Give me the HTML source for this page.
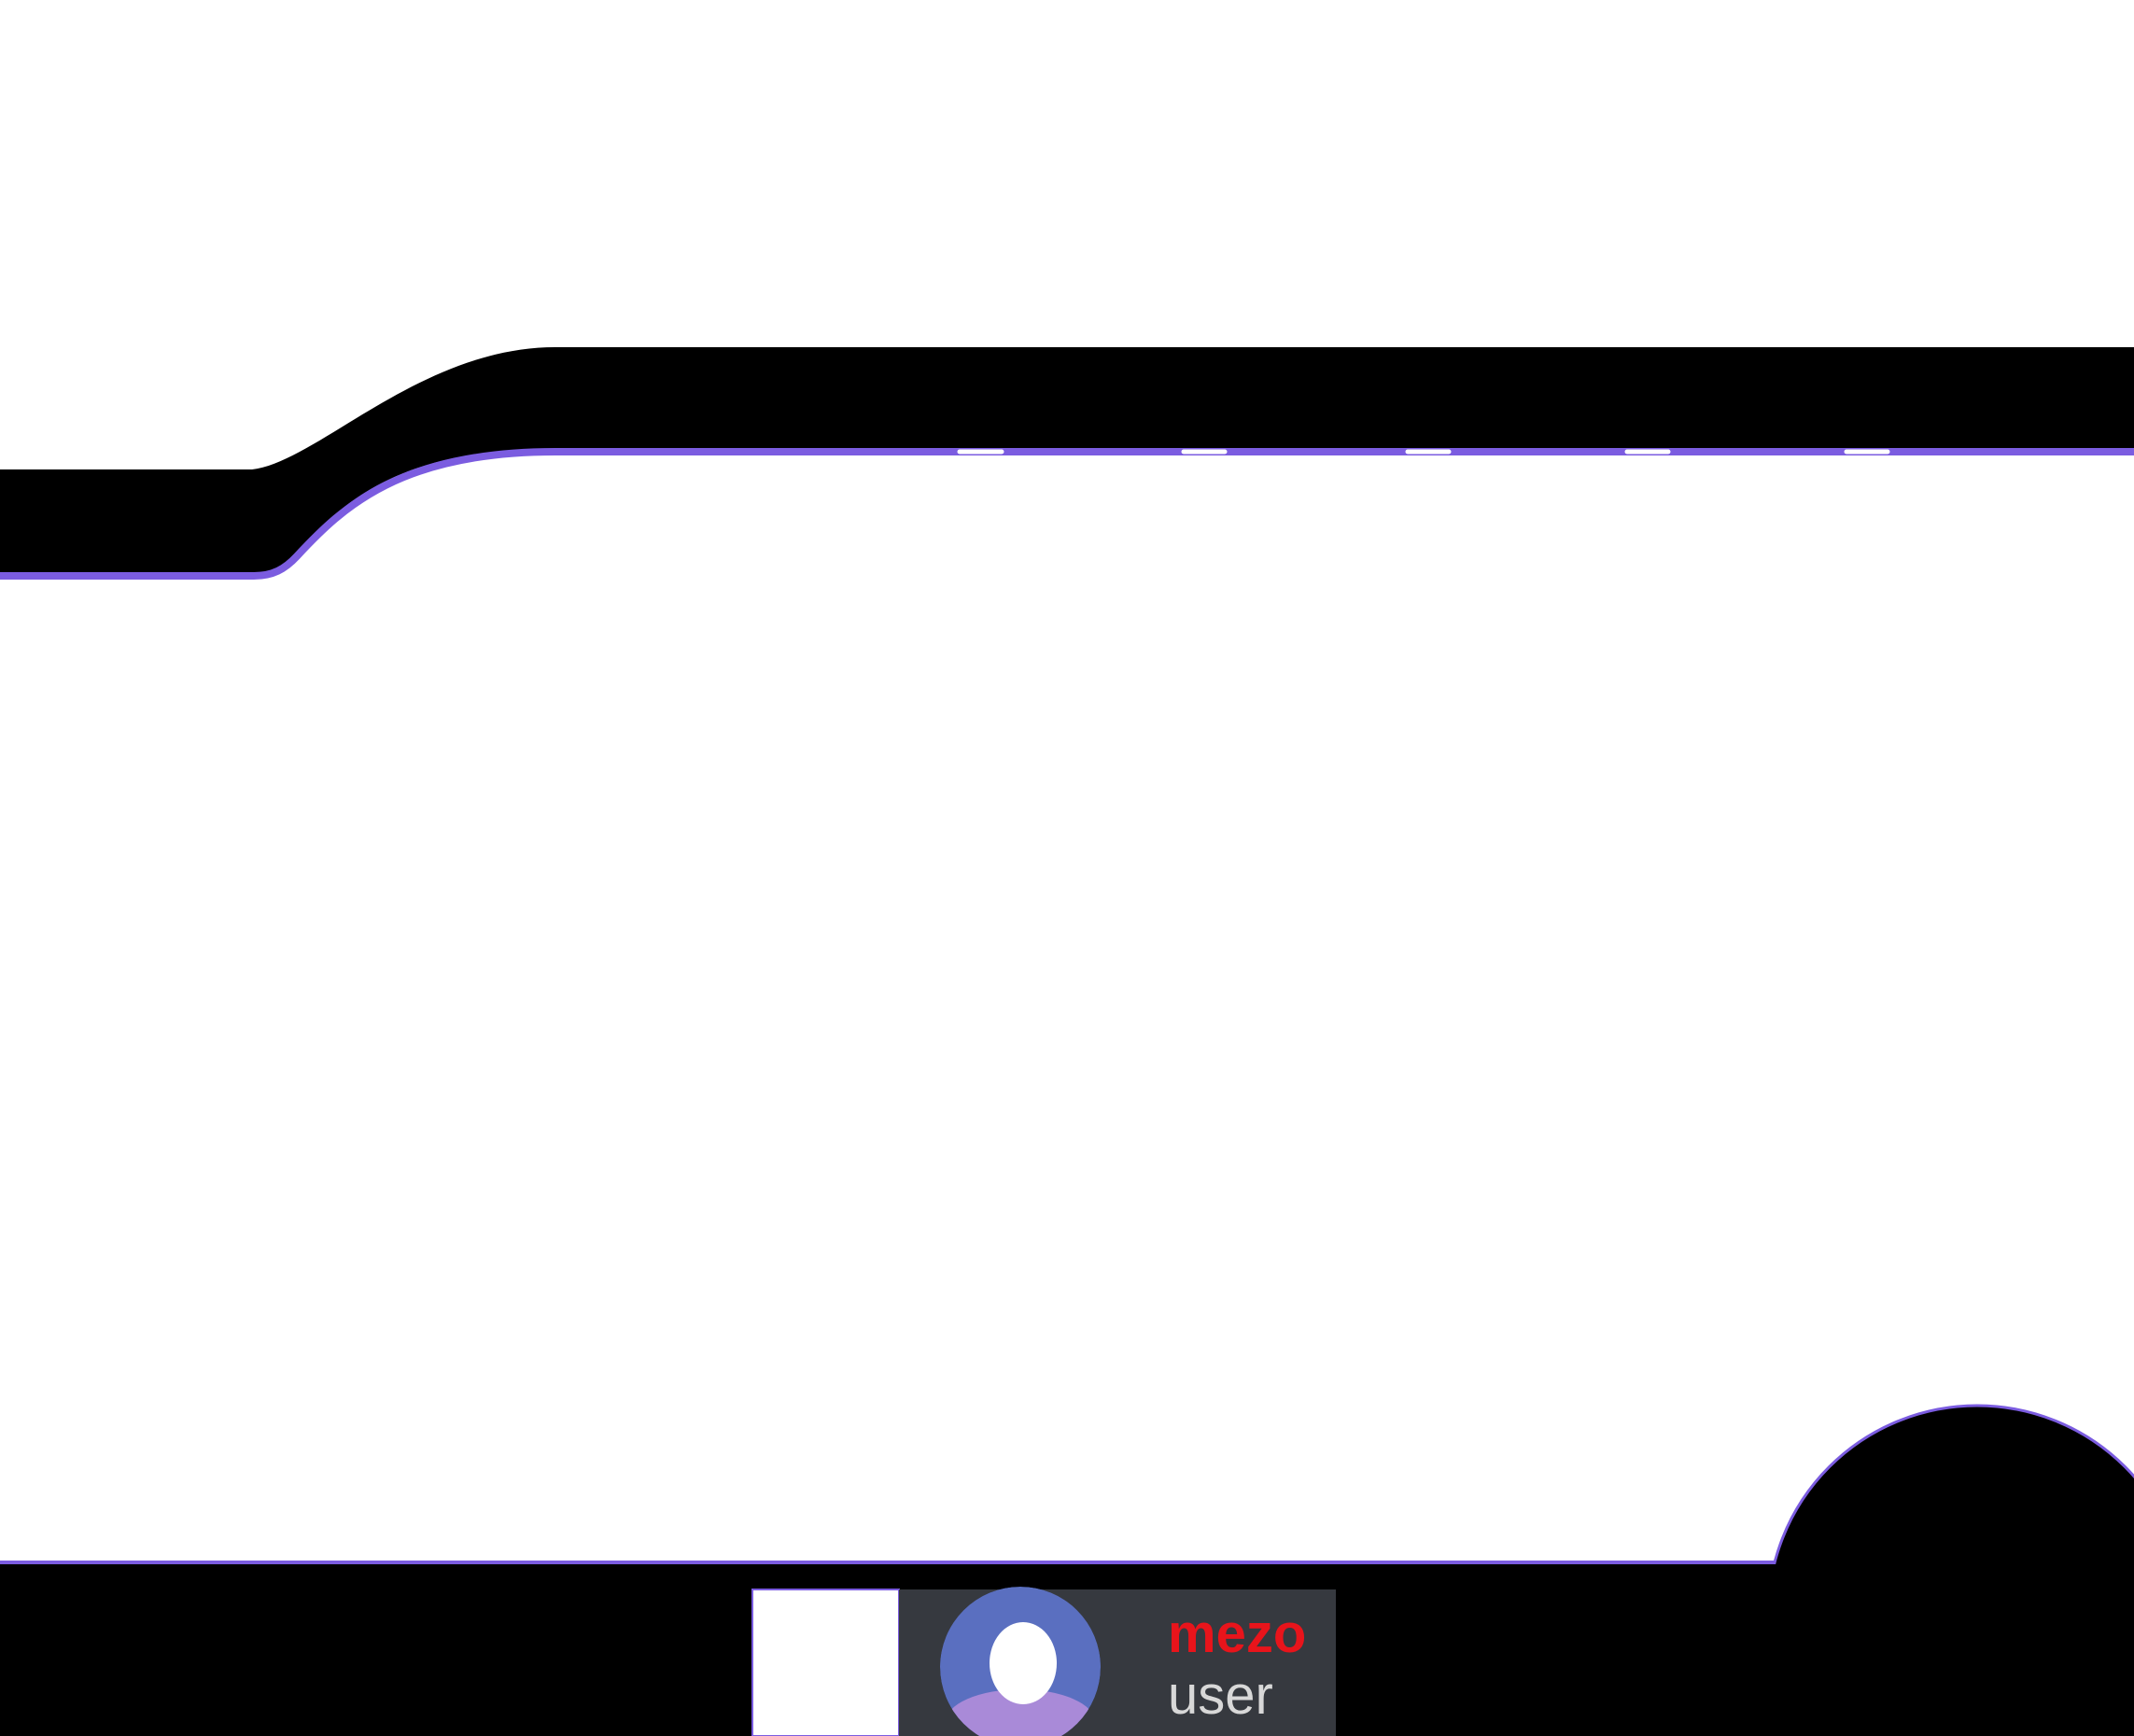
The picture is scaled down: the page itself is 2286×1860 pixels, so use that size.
<!DOCTYPE html>
<html><head><meta charset="utf-8"><style>
html,body{margin:0;padding:0;background:#fff;}
body{width:2286px;height:1860px;position:relative;overflow:hidden;font-family:"Liberation Sans",sans-serif;}
svg{position:absolute;left:0;top:0;display:block;}
</style></head><body>
<svg width="2286" height="1860" viewBox="0 0 2286 1860">
  <defs><clipPath id="av"><circle cx="1093" cy="1786" r="86"/></clipPath></defs>
  <path d="M0,503 L270,503 C340,495 450,372 595,372 L2286,372 L2286,481 L595,481 C430,481 370,535 320,590 C305,606 292,614 272,614 L0,614 Z" fill="#000"/>
  <path d="M0,617 L272,617 C292,617 305,610 318,596 C368,542 430,484 595,484 L2286,484" fill="none" stroke="#7b5ce0" stroke-width="8"/>
  <g stroke="#fff" stroke-width="5" stroke-linecap="round">
    <line x1="1028" y1="484" x2="1073" y2="484"/>
    <line x1="1268" y1="484" x2="1312" y2="484"/>
    <line x1="1508" y1="484" x2="1552" y2="484"/>
    <line x1="1743" y1="484" x2="1787" y2="484"/>
    <line x1="1978" y1="484" x2="2022" y2="484"/>
  </g>
  <circle cx="2118" cy="1730" r="224" fill="#000" stroke="#7b5ce0" stroke-width="3"/>
  <line x1="0" y1="1674" x2="1900" y2="1674" stroke="#7b5ce0" stroke-width="4"/>
  <rect x="0" y="1676" width="2286" height="184" fill="#000"/>
  <rect x="806" y="1703" width="157" height="157" fill="#fff" stroke="#7b5ce0" stroke-width="2"/>
  <rect x="963" y="1703" width="468" height="157" fill="#36393f"/>
  <g clip-path="url(#av)">
    <circle cx="1093" cy="1786" r="86" fill="#5a6fc0"/>
    <ellipse cx="1093" cy="1845" rx="80" ry="35" fill="#a98ad8"/>
    <ellipse cx="1096" cy="1782" rx="36" ry="44" fill="#fff"/>
  </g>
  <text x="1251" y="1770" font-size="58" font-weight="bold" fill="#e8141b">mezo</text>
  <text x="1251" y="1836" font-size="58" fill="#d8d8d8">user</text>
</svg>
</body></html>
